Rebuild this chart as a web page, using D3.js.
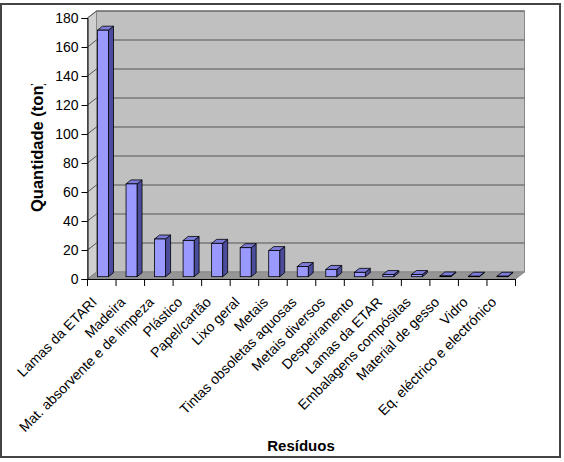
<!DOCTYPE html>
<html>
<head>
<meta charset="utf-8">
<script src="https://cdn.jsdelivr.net/npm/d3@7"></script>
<style>
  body { margin: 0; background: #fff; }
  text { font-family: "Liberation Sans", Arial, sans-serif; }
</style>
</head>
<body>
<div class="chart"></div>
<script>
// data
const categories = ["Lamas da ETARI", "Madeira", "Mat. absorvente e de limpeza", "Plástico",
    "Papel/cartão", "Lixo geral", "Metais", "Tintas obsoletas aquosas", "Metais diversos",
    "Despeiramento", "Lamas da ETAR", "Embalagens compósitas", "Material de gesso", "Vidro",
    "Eq. eléctrico e electrónico"];
const values = [170, 64, 26, 25, 23, 20, 18, 7, 5, 3, 1.5, 1.5, 0.5, 0.3, 0.3];
const yTicks = [0, 20, 40, 60, 80, 100, 120, 140, 160, 180];
const xTitle = "Resíduos";
const yTitle = "Quantidade (ton)";

const width = 564, height = 462;
const plot = {left: 87.5, right: 515.5, top: 18, bottom: 279};
const depth = {dx: 9, dy: -7};       // wall depth
const barDepth = {dx: 5, dy: -4};     // column depth

const svg = d3.select(".chart")
    .append("svg")
    .attr("width", width)
    .attr("height", height);

const xScale = d3.scaleBand()
    .domain(categories)
    .range([plot.left, plot.right])
    .padding(0);

const yScale = d3.scaleLinear()
    .domain([0, 180])
    .range([plot.bottom, plot.top]);

// outer frame
svg.append("rect")
    .attr("x", 1).attr("y", 4)
    .attr("width", 559).attr("height", 453)
    .attr("fill", "#fff")
    .attr("stroke", "#444")
    .attr("stroke-width", 2);

const gr = svg.append("g");

// walls + floor
const x0 = plot.left, x1 = plot.right, y0 = yScale(0), yTop = yScale(180);
gr.append("path")   // left wall
    .attr("d", `M${x0},${y0}L${x0},${yTop}L${x0 + depth.dx},${yTop + depth.dy}L${x0 + depth.dx},${y0 + depth.dy}Z`)
    .attr("fill", "#cfcfcf")
    .attr("stroke", "#888");
gr.append("rect")   // back wall
    .attr("x", x0 + depth.dx).attr("y", yTop + depth.dy)
    .attr("width", x1 - x0).attr("height", y0 - yTop)
    .attr("fill", "#c0c0c0")
    .attr("stroke", "#888");
gr.append("path")   // floor
    .attr("d", `M${x0},${y0}L${x0 + depth.dx},${y0 + depth.dy}L${x1 + depth.dx},${y0 + depth.dy}L${x1},${y0}Z`)
    .attr("fill", "#969696")
    .attr("stroke", "#888");

// gridlines on back and left wall
const grid = gr.selectAll(".grid")
    .data(yTicks.slice(1))
    .join("g")
    .attr("class", "grid");
grid.append("line")
    .attr("x1", x0 + depth.dx).attr("x2", x1 + depth.dx)
    .attr("y1", d => yScale(d) + depth.dy).attr("y2", d => yScale(d) + depth.dy)
    .attr("stroke", "#555");
grid.append("line")
    .attr("x1", x0).attr("x2", x0 + depth.dx)
    .attr("y1", d => yScale(d)).attr("y2", d => yScale(d) + depth.dy)
    .attr("stroke", "#555");

// 3D columns
const bw = 11, shiftX = 10, shiftY = -2.3;
const bars = gr.selectAll(".bar")
    .data(categories.map((c, i) => ({c, v: values[i]})))
    .join("g")
    .attr("class", "bar");
bars.append("path")   // side
    .attr("d", d => {
        const bx = xScale(d.c) + shiftX + bw, by = yScale(0) + shiftY, ty = yScale(d.v) + shiftY;
        return `M${bx},${by}L${bx},${ty}L${bx + barDepth.dx},${ty + barDepth.dy}L${bx + barDepth.dx},${by + barDepth.dy}Z`;
    })
    .attr("fill", "#4c4c9c")
    .attr("stroke", "#000")
    .attr("stroke-width", 0.8);
bars.append("path")   // top
    .attr("d", d => {
        const bx = xScale(d.c) + shiftX, ty = yScale(d.v) + shiftY;
        return `M${bx},${ty}L${bx + barDepth.dx},${ty + barDepth.dy}L${bx + bw + barDepth.dx},${ty + barDepth.dy}L${bx + bw},${ty}Z`;
    })
    .attr("fill", "#7c7cd8")
    .attr("stroke", "#000")
    .attr("stroke-width", 0.8);
bars.append("rect")   // front
    .attr("x", d => xScale(d.c) + shiftX)
    .attr("y", d => yScale(d.v) + shiftY)
    .attr("width", bw)
    .attr("height", d => yScale(0) - yScale(d.v))
    .attr("fill", "#9999ff")
    .attr("stroke", "#000")
    .attr("stroke-width", 0.8);

// axes
const yAxis = d3.axisLeft(yScale)
    .tickValues(yTicks)
    .tickSize(6)
    .tickPadding(3);
const yAxGr = svg.append("g")
    .attr("transform", `translate(${x0},0)`)
    .call(yAxis);
yAxGr.selectAll("text")
    .attr("font-size", 14)
    .attr("fill", "#000");

const xAxis = d3.axisBottom(xScale)
    .tickSize(0)
    .tickFormat("");
const xAxGr = svg.append("g")
    .attr("transform", `translate(0,${y0})`)
    .call(xAxis);
// category boundary ticks
xAxGr.selectAll(".bnd")
    .data(d3.range(categories.length + 1))
    .join("line")
    .attr("class", "bnd")
    .attr("x1", i => x0 + i * xScale.bandwidth())
    .attr("x2", i => x0 + i * xScale.bandwidth())
    .attr("y1", 0).attr("y2", 7)
    .attr("stroke", "#000");
svg.selectAll(".domain").attr("stroke", "#000");

svg.append("g")
    .selectAll("text")
    .data(categories)
    .join("text")
    .attr("transform", d => `translate(${xScale(d) + xScale.bandwidth() / 2 - 4},${y0 + 24}) rotate(-45)`)
    .attr("text-anchor", "end")
    .attr("font-size", 14)
    .text(d => d);

// titles
svg.append("text")
    .attr("x", 301).attr("y", 451)
    .attr("text-anchor", "middle")
    .attr("font-size", 15)
    .attr("font-weight", "bold")
    .text(xTitle);

// the title is cut off at the top in the original
svg.append("clipPath")
    .attr("id", "yclip")
    .append("rect")
    .attr("x", 0).attr("y", 84).attr("width", 80).attr("height", 200);
svg.append("g")
    .attr("clip-path", "url(#yclip)")
    .append("text")
    .attr("transform", "translate(43,212) rotate(-90)")
    .attr("font-size", 16.5)
    .attr("font-weight", "bold")
    .text(yTitle);
</script>
</body>
</html>
